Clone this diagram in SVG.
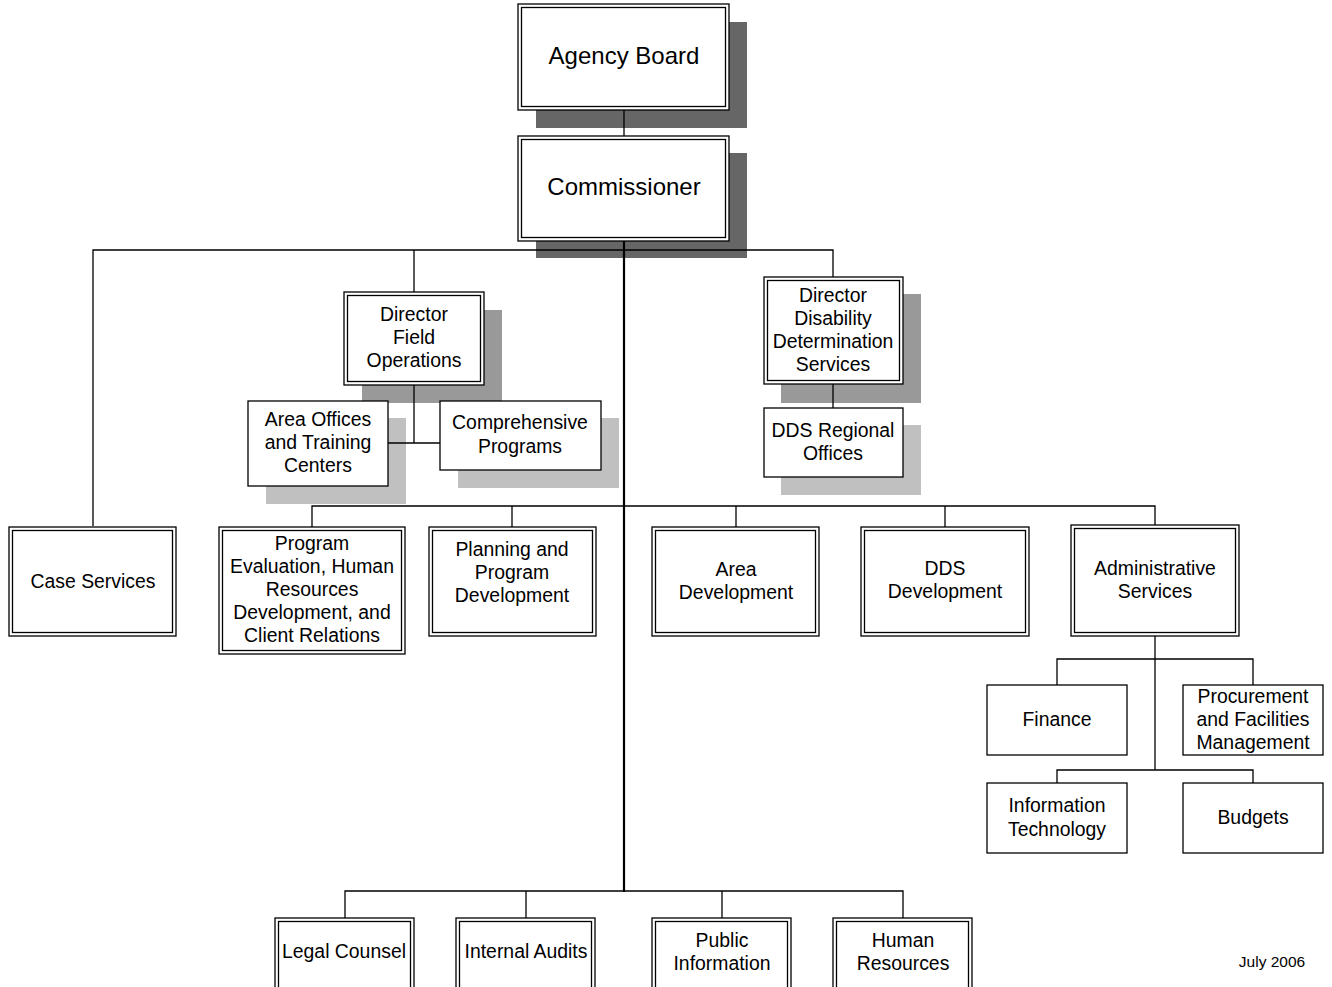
<svg xmlns="http://www.w3.org/2000/svg" width="1332" height="987" viewBox="0 0 1332 987">
<style>
text{font-family:"Liberation Sans",Arial,sans-serif;font-size:19.4px;fill:#000;text-anchor:middle}
.big{font-size:24px}
.sm{font-size:15.5px}
.box{fill:#fff;stroke:#000;stroke-width:1.3}
.in{fill:none;stroke:#000;stroke-width:1.3}
.s1{fill:#666}
.s2{fill:#999}
.s3{fill:#c0c0c0}
.ln{stroke:#000;stroke-width:1.3;fill:none}
.th{stroke:#000;stroke-width:2.2;fill:none}
</style>
<rect width="1332" height="987" fill="#fff"/>
<g id="agency-board">
<rect class="s1" x="536" y="22" width="211" height="106"/>
<rect class="box" x="518" y="4" width="211" height="106"/>
<rect class="in" x="521.5" y="7.5" width="204" height="99"/>
<text class="big" x="624" y="64">Agency Board</text>
</g>
<g id="commissioner">
<rect class="s1" x="536" y="153" width="211" height="105"/>
<rect class="box" x="518" y="136" width="211" height="105"/>
<rect class="in" x="521.5" y="139.5" width="204" height="98"/>
<text class="big" x="624" y="195">Commissioner</text>
</g>
<g id="director-field-operations">
<rect class="s2" x="362" y="310" width="140" height="93"/>
<rect class="box" x="344" y="292" width="140" height="93"/>
<rect class="in" x="347.5" y="295.5" width="133" height="86"/>
<text x="414" y="321">Director</text>
<text x="414" y="344">Field</text>
<text x="414" y="367">Operations</text>
</g>
<g id="area-offices">
<rect class="s3" x="266" y="418" width="140" height="86"/>
<rect class="box" x="248" y="401" width="140" height="85"/>
<text x="318" y="426">Area Offices</text>
<text x="318" y="449">and Training</text>
<text x="318" y="472">Centers</text>
</g>
<g id="comprehensive-programs">
<rect class="s3" x="458" y="418" width="161" height="70"/>
<rect class="box" x="440" y="401" width="161" height="69"/>
<text x="520" y="429">Comprehensive</text>
<text x="520" y="453">Programs</text>
</g>
<g id="director-dds">
<rect class="s2" x="781" y="294" width="140" height="109"/>
<rect class="box" x="764" y="277" width="139" height="107"/>
<rect class="in" x="767.5" y="280.5" width="132" height="100"/>
<text x="833" y="302">Director</text>
<text x="833" y="325">Disability</text>
<text x="833" y="348">Determination</text>
<text x="833" y="371">Services</text>
</g>
<g id="dds-regional-offices">
<rect class="s3" x="781" y="425" width="140" height="70"/>
<rect class="box" x="764" y="408" width="139" height="69"/>
<text x="833" y="437">DDS Regional</text>
<text x="833" y="460">Offices</text>
</g>
<g id="case-services">
<rect class="box" x="9" y="527" width="167" height="109"/>
<rect class="in" x="12.5" y="530.5" width="160" height="102"/>
<text x="93" y="588">Case Services</text>
</g>
<g id="program-evaluation">
<rect class="box" x="219" y="527" width="186" height="127"/>
<rect class="in" x="222.5" y="530.5" width="179" height="120"/>
<text x="312" y="550">Program</text>
<text x="312" y="573">Evaluation, Human</text>
<text x="312" y="596">Resources</text>
<text x="312" y="619">Development, and</text>
<text x="312" y="642">Client Relations</text>
</g>
<g id="planning">
<rect class="box" x="429" y="527" width="167" height="109"/>
<rect class="in" x="432.5" y="530.5" width="160" height="102"/>
<text x="512" y="556">Planning and</text>
<text x="512" y="579">Program</text>
<text x="512" y="602">Development</text>
</g>
<g id="area-development">
<rect class="box" x="652" y="527" width="167" height="109"/>
<rect class="in" x="655.5" y="530.5" width="160" height="102"/>
<text x="736" y="576">Area</text>
<text x="736" y="599">Development</text>
</g>
<g id="dds-development">
<rect class="box" x="861" y="527" width="168" height="109"/>
<rect class="in" x="864.5" y="530.5" width="161" height="102"/>
<text x="945" y="575">DDS</text>
<text x="945" y="598">Development</text>
</g>
<g id="administrative-services">
<rect class="box" x="1071" y="525" width="168" height="111"/>
<rect class="in" x="1074.5" y="528.5" width="161" height="104"/>
<text x="1155" y="575">Administrative</text>
<text x="1155" y="598">Services</text>
</g>
<g id="finance">
<rect class="box" x="987" y="685" width="140" height="70"/>
<text x="1057" y="726">Finance</text>
</g>
<g id="procurement">
<rect class="box" x="1183" y="685" width="140" height="70"/>
<text x="1253" y="703">Procurement</text>
<text x="1253" y="726">and Facilities</text>
<text x="1253" y="749">Management</text>
</g>
<g id="information-technology">
<rect class="box" x="987" y="783" width="140" height="70"/>
<text x="1057" y="812">Information</text>
<text x="1057" y="836">Technology</text>
</g>
<g id="budgets">
<rect class="box" x="1183" y="783" width="140" height="70"/>
<text x="1253" y="824">Budgets</text>
</g>
<g id="legal-counsel">
<rect class="box" x="275" y="918" width="139" height="75"/>
<rect class="in" x="278.5" y="921.5" width="132" height="70"/>
<text x="344" y="958">Legal Counsel</text>
</g>
<g id="internal-audits">
<rect class="box" x="456" y="918" width="139" height="75"/>
<rect class="in" x="459.5" y="921.5" width="132" height="70"/>
<text x="526" y="958">Internal Audits</text>
</g>
<g id="public-information">
<rect class="box" x="652" y="918" width="139" height="75"/>
<rect class="in" x="655.5" y="921.5" width="132" height="70"/>
<text x="722" y="947">Public</text>
<text x="722" y="970">Information</text>
</g>
<g id="human-resources">
<rect class="box" x="833" y="918" width="139" height="75"/>
<rect class="in" x="836.5" y="921.5" width="132" height="70"/>
<text x="903" y="947">Human</text>
<text x="903" y="970">Resources</text>
</g>
<g id="connectors">
<line class="ln" x1="624" y1="110" x2="624" y2="136"/>
<line class="th" x1="624" y1="241" x2="624" y2="892"/>
<polyline class="ln" points="93,526 93,250 833,250 833,277"/>
<line class="ln" x1="414" y1="250" x2="414" y2="292"/>
<polyline class="ln" points="414,385 414,443"/>
<line class="ln" x1="388" y1="443" x2="440" y2="443"/>
<line class="ln" x1="833" y1="384" x2="833" y2="408"/>
<polyline class="ln" points="312,527 312,506 1155,506 1155,525"/>
<line class="ln" x1="512" y1="506" x2="512" y2="527"/>
<line class="ln" x1="736" y1="506" x2="736" y2="527"/>
<line class="ln" x1="945" y1="506" x2="945" y2="527"/>
<line class="ln" x1="1155" y1="636" x2="1155" y2="770"/>
<polyline class="ln" points="1057,685 1057,659 1253,659 1253,685"/>
<polyline class="ln" points="1057,783 1057,770 1253,770 1253,783"/>
<polyline class="ln" points="345,918 345,891 903,891 903,918"/>
<line class="ln" x1="526" y1="891" x2="526" y2="918"/>
<line class="ln" x1="722" y1="891" x2="722" y2="918"/>
</g>
<text class="sm" x="1272" y="967">July 2006</text>
</svg>
